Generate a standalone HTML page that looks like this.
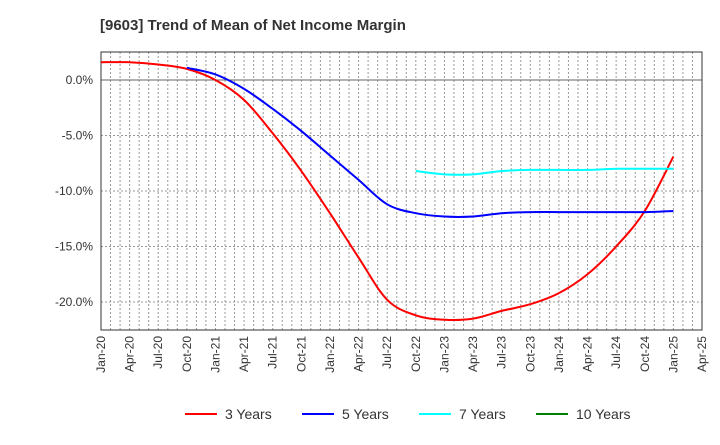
<!DOCTYPE html>
<html><head><meta charset="utf-8"><style>
body{margin:0;background:#fff;font-family:"Liberation Sans",sans-serif;}
</style></head><body>
<svg id="c" width="720" height="440" xmlns="http://www.w3.org/2000/svg">
<text x="100" y="30" font-size="15" font-weight="bold" fill="#333">[9603]  Trend of Mean of Net Income Margin</text>
<g id="grid"></g><g id="axes"></g><g id="series"></g>
<g id="legend"></g>
</svg>
<script>
const xLabels=["Jan-20","Apr-20","Jul-20","Oct-20","Jan-21","Apr-21","Jul-21","Oct-21","Jan-22","Apr-22","Jul-22","Oct-22","Jan-23","Apr-23","Jul-23","Oct-23","Jan-24","Apr-24","Jul-24","Oct-24","Jan-25","Apr-25"];
const yTicks=[0,-5,-10,-15,-20];
const yTickLabels=["0.0%","-5.0%","-10.0%","-15.0%","-20.0%"];
const s3=[1.6,1.6,1.4,1.0,0.0,-1.8,-4.8,-8.2,-12.0,-16.0,-19.8,-21.2,-21.6,-21.5,-20.8,-20.2,-19.2,-17.5,-15.0,-11.8,-6.9];
const s5=[null,null,null,1.1,0.5,-0.8,-2.6,-4.6,-6.8,-9.0,-11.2,-12.0,-12.3,-12.3,-12.0,-11.9,-11.9,-11.9,-11.9,-11.9,-11.8];
const s7=[null,null,null,null,null,null,null,null,null,null,null,-8.2,-8.5,-8.5,-8.2,-8.1,-8.1,-8.1,-8.0,-8.0,-8.0];
const s10=[];
const X0=101,X1=702,Y0=52,Y1=330;
const xs=i=>X0+i*(X1-X0)/21;
const ys=v=>80+(-v)*(302-80)/20;
const NS="http://www.w3.org/2000/svg";
function mk(t,a,p){const e=document.createElementNS(NS,t);for(const k in a)e.setAttribute(k,a[k]);p.appendChild(e);return e;}
const g=document.getElementById('grid'),ax=document.getElementById('axes'),sg=document.getElementById('series'),lg=document.getElementById('legend');
for(let m=1;m<63;m++){const x=X0+m*(X1-X0)/63;const l=mk('line',{x1:x,x2:x,y1:Y0,y2:Y1,stroke:'#999','stroke-dasharray':'2,2','stroke-width':1},g);

}
yTicks.forEach((v,i)=>{const y=ys(v);const l=mk('line',{x1:X0,x2:X1,y1:y,y2:y,stroke:v===0?'#666':'#999','stroke-dasharray':v===0?'':'2,2','stroke-width':1},g);


const t=mk('text',{x:X0-8,y:y+4,'text-anchor':'end','font-size':12,fill:'#333'},ax);t.textContent=yTickLabels[i];

});
const r=mk('rect',{x:X0,y:Y0,width:X1-X0,height:Y1-Y0,fill:'none',stroke:'#333'},ax);


xLabels.forEach((s,i)=>{const x=xs(i);const t=mk('text',{transform:`translate(${x+4},${Y1+6}) rotate(-90)`,'text-anchor':'end','font-size':12,fill:'#333'},ax);t.textContent=s;

});
function path(arr){let pts=[];arr.forEach((v,i)=>{if(v!==null&&v!==undefined)pts.push([xs(i),ys(v)]);});
if(pts.length<2)return '';let d=`M${pts[0][0]},${pts[0][1]}`;
for(let i=0;i<pts.length-1;i++){const p0=pts[i-1]||pts[i],p1=pts[i],p2=pts[i+1],p3=pts[i+2]||p2;
d+=` C${p1[0]+(p2[0]-p0[0])/6},${p1[1]+(p2[1]-p0[1])/6} ${p2[0]-(p3[0]-p1[0])/6},${p2[1]-(p3[1]-p1[1])/6} ${p2[0]},${p2[1]}`;}return d;}
[[s3,'#ff0000','line-3-years'],[s5,'#0000ff','line-5-years'],[s7,'#00ffff','line-7-years'],[s10,'#008000','line-10-years']].forEach(([a,c,n])=>{const d=path(a);if(!d)return;
const p=mk('path',{d:d,fill:'none',stroke:c,'stroke-width':2},sg);

});
[['3 Years','#ff0000',185],['5 Years','#0000ff',302],['7 Years','#00ffff',419],['10 Years','#008000',536]].forEach(([t,c,x])=>{
const l=mk('line',{x1:x,x2:x+32,y1:414,y2:414,stroke:c,'stroke-width':2},lg);


const tx=mk('text',{x:x+40,y:419,'font-size':14,fill:'#333'},lg);tx.textContent=t;

});
</script>
</body></html>
